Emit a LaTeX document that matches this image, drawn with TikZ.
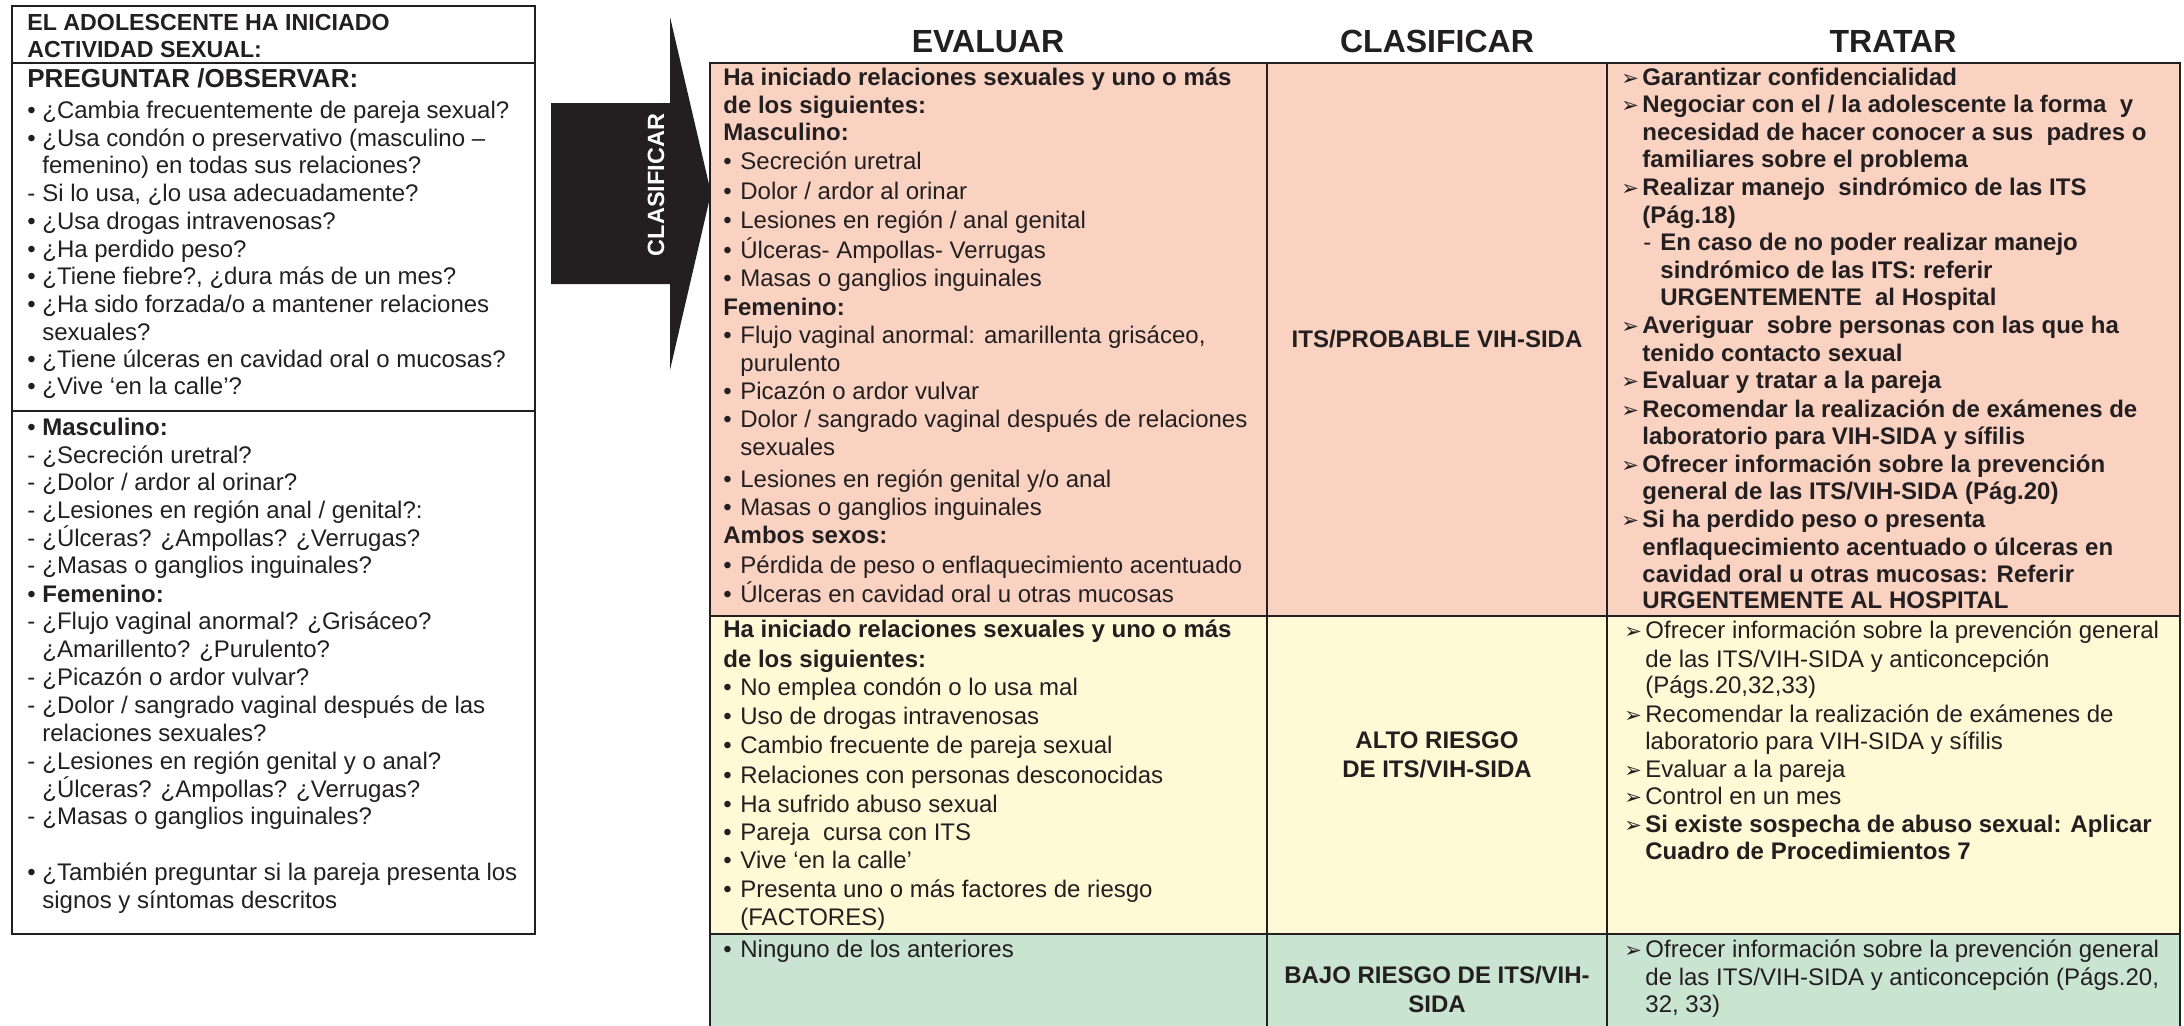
\documentclass[tikz,border=0pt]{standalone}
\usepackage{fontspec}
\setmainfont{Liberation Sans}
\newfontfamily\dejavu{DejaVu Sans}
\definecolor{ink}{HTML}{231F20}
\definecolor{pinkc}{HTML}{FAD2C1}
\definecolor{yelc}{HTML}{FFF9D5}
\definecolor{grnc}{HTML}{CAE4D2}
\newcommand\bu{\llap{\hbox to 7.5pt{•\hfil}}}
\newcommand\bv{\llap{\hbox to 8.5pt{•\hfil}}}
\newcommand\da{\llap{\hbox to 7.5pt{-\hfil}}}
\newcommand\db{\llap{\hbox to 8.5pt{-\hfil}}}
\newcommand\ar{\llap{\hbox to 10.5pt{{\dejavu\fontsize{10.5}{10.5}\selectfont ➢}\hfil}}}
\tikzset{
  txt/.style={anchor=base west, inner sep=0pt, text=ink, font=\fontsize{12}{14}\selectfont},
  hdr/.style={anchor=base, inner sep=0pt, text=ink, font=\fontsize{16}{18}\selectfont\bfseries},
  cls/.style={anchor=base, inner sep=0pt, text=ink, font=\fontsize{12}{14}\selectfont\bfseries},
  tline/.style={draw=ink, line width=1.4pt},
  bline/.style={draw=ink, line width=1pt}
}
\begin{document}
\begin{tikzpicture}[x=0.5pt,y=-0.5pt]
\useasboundingbox (0,0) rectangle (2184,1025);
% ---------- left box ----------
\draw[bline] (12,6) rectangle (535,934);
\draw[bline] (12,63) -- (535,63);
\draw[bline] (12,411) -- (535,411);
\node[txt, font=\fontsize{11.6}{14}\selectfont\bfseries] (LH1) at (27,30) {EL ADOLESCENTE HA INICIADO};
\node[txt, font=\fontsize{11.6}{14}\selectfont\bfseries] (LH2) at (27,57) {ACTIVIDAD SEXUAL:};
\node[txt, font=\fontsize{13}{15}\selectfont\bfseries] (LH3) at (27,87) {PREGUNTAR /OBSERVAR:};
\foreach \y/\t [count=\i] in {
 118/{\bu ¿Cambia frecuentemente de pareja sexual?},
 146/{\bu ¿Usa condón o preservativo (masculino –},
 173/{femenino) en todas sus relaciones?},
 201/{\da Si lo usa, ¿lo usa adecuadamente?},
 229/{\bu ¿Usa drogas intravenosas?},
 257/{\bu ¿Ha perdido peso?},
 284/{\bu ¿Tiene fiebre?, ¿dura más de un mes?},
 312/{\bu ¿Ha sido forzada/o a mantener relaciones},
 340/{sexuales?},
 367/{\bu ¿Tiene úlceras en cavidad oral o mucosas?},
 394/{\bu ¿Vive ‘en la calle’?},
 435/{\bu \textbf{Masculino:}},
 463/{\da ¿Secreción uretral?},
 490/{\da ¿Dolor / ardor al orinar?},
 518/{\da ¿Lesiones en región anal / genital?:},
 546/{\da ¿Úlceras? ¿Ampollas? ¿Verrugas?},
 573/{\da ¿Masas o ganglios inguinales?},
 602/{\bu \textbf{Femenino:}},
 629/{\da ¿Flujo vaginal anormal? ¿Grisáceo?},
 657/{¿Amarillento? ¿Purulento?},
 685/{\da ¿Picazón o ardor vulvar?},
 713/{\da ¿Dolor / sangrado vaginal después de las},
 741/{relaciones sexuales?},
 769/{\da ¿Lesiones en región genital y o anal?},
 797/{¿Úlceras? ¿Ampollas? ¿Verrugas?},
 824/{\da ¿Masas o ganglios inguinales?},
 880/{\bu ¿También preguntar si la pareja presenta los},
 908/{signos y síntomas descritos}}
 \node[txt] (L\i) at (42,\y) {\t};
% ---------- arrow ----------
\fill[ink] (551,103) -- (670,103) -- (670,17) -- (711,193) -- (670,370) -- (670,284) -- (551,284) -- cycle;
\node[rotate=90, inner sep=0pt, text=white, font=\fontsize{11.75}{14}\selectfont\bfseries] (ARW) at (656,185) {CLASIFICAR};
% ---------- table ----------
\fill[pinkc] (710,63) rectangle (2180,616);
\fill[yelc] (710,616) rectangle (2180,934);
\fill[grnc] (710,934) rectangle (2180,1040);
\draw[tline] (710,1040) -- (710,63) -- (2180,63) -- (2180,1040);
\draw[tline] (710,616) -- (2180,616);
\draw[tline] (710,934) -- (2180,934);
\draw[tline] (1267,63) -- (1267,1040);
\draw[tline] (1607,63) -- (1607,1040);
\node[hdr] (HE) at (988,52) {EVALUAR};
\node[hdr] (HC) at (1437,52) {CLASIFICAR};
\node[hdr] (HT) at (1893,52) {TRATAR};
% EVALUAR column
\foreach \x/\y/\t [count=\i] in {
 723/85/{\textbf{Ha iniciado relaciones sexuales y uno o más}},
 723/113/{\textbf{de los siguientes:}},
 723/140/{\textbf{Masculino:}},
 740/169/{\bv Secreción uretral},
 740/199/{\bv Dolor / ardor al orinar},
 740/228/{\bv Lesiones en región / anal genital},
 740/258/{\bv Úlceras- Ampollas- Verrugas},
 740/286/{\bv Masas o ganglios inguinales},
 723/315/{\textbf{Femenino:}},
 740/343/{\bv Flujo vaginal anormal: amarillenta grisáceo,},
 740/371/{purulento},
 740/399/{\bv Picazón o ardor vulvar},
 740/427/{\bv Dolor / sangrado vaginal después de relaciones},
 740/455/{sexuales},
 740/487/{\bv Lesiones en región genital y/o anal},
 740/515/{\bv Masas o ganglios inguinales},
 723/543/{\textbf{Ambos sexos:}},
 740/573/{\bv Pérdida de peso o enflaquecimiento acentuado},
 740/602/{\bv Úlceras en cavidad oral u otras mucosas},
 723/637/{\textbf{Ha iniciado relaciones sexuales y uno o más}},
 723/667/{\textbf{de los siguientes:}},
 740/695/{\bv No emplea condón o lo usa mal},
 740/724/{\bv Uso de drogas intravenosas},
 740/753/{\bv Cambio frecuente de pareja sexual},
 740/783/{\bv Relaciones con personas desconocidas},
 740/812/{\bv Ha sufrido abuso sexual},
 740/840/{\bv Pareja\ \ cursa con ITS},
 740/868/{\bv Vive ‘en la calle’},
 740/897/{\bv Presenta uno o más factores de riesgo},
 740/925/{(FACTORES)},
 740/957/{\bv Ninguno de los anteriores}}
 \node[txt] (E\i) at (\x,\y) {\t};
% CLASIFICAR column
\node[cls] (C1) at (1437,347) {ITS/PROBABLE VIH-SIDA};
\node[cls] (C2) at (1437,748) {ALTO RIESGO};
\node[cls] (C3) at (1437,777) {DE ITS/VIH-SIDA};
\node[cls] (C4) at (1437,983) {BAJO RIESGO DE ITS/VIH-};
\node[cls] (C5) at (1437,1012) {SIDA};
% TRATAR column
\foreach \x/\y/\t [count=\i] in {
 1642/85/{\ar\textbf{Garantizar confidencialidad}},
 1642/112/{\ar\textbf{Negociar con el / la adolescente la forma\ \ y}},
 1642/140/{\textbf{necesidad de hacer conocer a sus\ \ padres o}},
 1642/167/{\textbf{familiares sobre el problema}},
 1642/195/{\ar\textbf{Realizar manejo\ \ sindrómico de las ITS}},
 1642/223/{\textbf{(Pág.18)}},
 1660/250/{\db\textbf{En caso de no poder realizar manejo}},
 1660/278/{\textbf{sindrómico de las ITS: referir}},
 1660/305/{\textbf{URGENTEMENTE\ \ al Hospital}},
 1642/333/{\ar\textbf{Averiguar\ \ sobre personas con las que ha}},
 1642/361/{\textbf{tenido contacto sexual}},
 1642/388/{\ar\textbf{Evaluar y tratar a la pareja}},
 1642/417/{\ar\textbf{Recomendar la realización de exámenes de}},
 1642/444/{\textbf{laboratorio para VIH-SIDA y sífilis}},
 1642/472/{\ar\textbf{Ofrecer información sobre la prevención}},
 1642/499/{\textbf{general de las ITS/VIH-SIDA (Pág.20)}},
 1642/527/{\ar\textbf{Si ha perdido peso o presenta}},
 1642/555/{\textbf{enflaquecimiento acentuado o úlceras en}},
 1642/582/{\textbf{cavidad oral u otras mucosas: Referir}},
 1642/608/{\textbf{URGENTEMENTE AL HOSPITAL}},
 1645/638/{\ar Ofrecer información sobre la prevención general},
 1645/667/{de las ITS/VIH-SIDA y anticoncepción},
 1645/693/{(Págs.20,32,33)},
 1645/722/{\ar Recomendar la realización de exámenes de},
 1645/749/{laboratorio para VIH-SIDA y sífilis},
 1645/777/{\ar Evaluar a la pareja},
 1645/804/{\ar Control en un mes},
 1645/832/{\ar\textbf{Si existe sospecha de abuso sexual: Aplicar}},
 1645/859/{\textbf{Cuadro de Procedimientos 7}},
 1645/957/{\ar Ofrecer información sobre la prevención general},
 1645/985/{de las ITS/VIH-SIDA y anticoncepción (Págs.20,},
 1645/1012/{32, 33)}}
 \node[txt] (T\i) at (\x,\y) {\t};
\end{tikzpicture}
\end{document}
